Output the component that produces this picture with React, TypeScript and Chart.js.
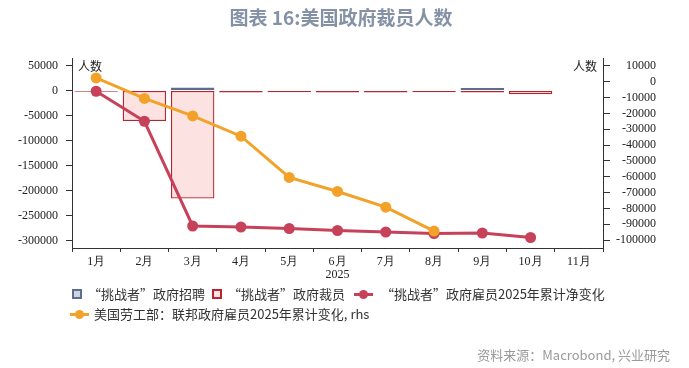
import React, { useEffect, useRef } from "react";
import { Chart, registerables } from "chart.js";

Chart.register(...registerables);

// ---- data ----
const months = ["1月", "2月", "3月", "4月", "5月", "6月", "7月", "8月", "9月", "10月", "11月"];
const yearLabel = "2025";
const hiring = [null, 800, 6000, null, null, null, null, null, 5000, 1200, null];
const layoffs = [-2500, -61000, -216000, -4000, -3500, -4000, -4000, -3500, -4000, -7500, null];
const netChallenger = [-1500, -61500, -271000, -273000, -276000, -280000, -283000, -286000, -285000, -294000, null];
const blsFederal = [2400, -10500, -21600, -34400, -60400, -69300, -79200, -94300, null, null, null];
const leftTicks = [50000, 0, -50000, -100000, -150000, -200000, -250000, -300000];
const rightTicks = [10000, 0, -10000, -20000, -30000, -40000, -50000, -60000, -70000, -80000, -90000, -100000];
const unitLabel = "人数";

const seriesNames = [
  "“挑战者”政府招聘",
  "“挑战者”政府裁员",
  "“挑战者”政府雇员2025年累计净变化",
  "美国劳工部：联邦政府雇员2025年累计变化, rhs",
];

const C_HIRE_BORDER = "#5d6d8c";
const C_HIRE_FILL = "#cdd4e1";
const C_LAY_BORDER = "#b8242f";
const C_LAY_FILL = "rgba(252, 214, 214, 0.7)";
const C_NET = "#c8415a";
const C_BLS = "#f2a229";

const tickFont = { family: "Liberation Serif", size: 12 };

const unitPlugin = {
  id: "unitPlugin",
  afterDraw(chart: any) {
    const { ctx, chartArea } = chart;
    ctx.save();
    ctx.font = "12px 'Noto Sans CJK SC', sans-serif";
    ctx.fillStyle = "#222";
    ctx.textBaseline = "middle";
    ctx.textAlign = "left";
    ctx.fillText(unitLabel, chartArea.left + 6, chartArea.top + 8);
    ctx.textAlign = "right";
    ctx.fillText(unitLabel, chartArea.right - 6, chartArea.top + 8);
    ctx.restore();
  },
};

const legendText: React.CSSProperties = {
  position: "absolute",
  fontFamily: "'Noto Sans CJK SC', sans-serif",
  fontSize: 13,
  lineHeight: "16px",
  color: "#333",
  whiteSpace: "nowrap",
};

function BoxIcon({ left, top, border, fill }: { left: number; top: number; border: string; fill: string }) {
  return (
    <div
      style={{
        position: "absolute",
        left,
        top,
        width: 6,
        height: 6,
        border: `2px solid ${border}`,
        background: fill,
      }}
    />
  );
}

function LineIcon({ left, top, color }: { left: number; top: number; color: string }) {
  return (
    <div style={{ position: "absolute", left, top, width: 19, height: 9 }}>
      <div style={{ position: "absolute", left: 0, top: 3, width: 19, height: 3, background: color }} />
      <div
        style={{
          position: "absolute",
          left: 5,
          top: 0,
          width: 9,
          height: 9,
          borderRadius: "50%",
          background: color,
        }}
      />
    </div>
  );
}

export default function App() {
  const ref = useRef<HTMLCanvasElement>(null);

  useEffect(() => {
    if (!ref.current) return;
    const chart = new Chart(ref.current, {
      type: "bar",
      data: {
        labels: months,
        datasets: [
          {
            type: "bar",
            label: seriesNames[0],
            data: hiring,
            yAxisID: "y",
            backgroundColor: C_HIRE_FILL,
            borderColor: C_HIRE_BORDER,
            borderWidth: 1.5,
            borderSkipped: false,
            grouped: false,
            barPercentage: 0.9,
            categoryPercentage: 1,
            order: 3,
          } as any,
          {
            type: "bar",
            label: seriesNames[1],
            data: layoffs,
            yAxisID: "y",
            backgroundColor: C_LAY_FILL,
            borderColor: C_LAY_BORDER,
            borderWidth: 1.3,
            borderSkipped: false,
            grouped: false,
            barPercentage: 0.9,
            categoryPercentage: 1,
            order: 2,
          } as any,
          {
            type: "line",
            label: seriesNames[2],
            data: netChallenger,
            yAxisID: "y",
            borderColor: C_NET,
            backgroundColor: C_NET,
            borderWidth: 3,
            pointRadius: 5.5,
            pointBorderWidth: 0,
            pointBackgroundColor: C_NET,
            tension: 0,
            order: 1,
          } as any,
          {
            type: "line",
            label: seriesNames[3],
            data: blsFederal,
            yAxisID: "y1",
            borderColor: C_BLS,
            backgroundColor: C_BLS,
            borderWidth: 3,
            pointRadius: 5.5,
            pointBorderWidth: 0,
            pointBackgroundColor: C_BLS,
            tension: 0,
            order: 0,
          } as any,
        ],
      },
      options: {
        animation: false,
        responsive: false,
        maintainAspectRatio: false,
        layout: { padding: { left: 0, right: 33, top: 58, bottom: 80 } },
        plugins: {
          legend: { display: false },
          tooltip: { enabled: false },
          title: { display: false },
        },
        scales: {
          x: {
            offset: true,
            grid: { display: true, drawOnChartArea: false, tickLength: 4, color: "#333", offset: true },
            border: { display: true, color: "#333", width: 1 },
            ticks: { font: tickFont, color: "#222", padding: 3, maxRotation: 0, autoSkip: false },
            title: {
              display: true,
              text: yearLabel,
              font: tickFont,
              color: "#222",
              padding: { top: 0, bottom: 6 },
            },
            afterFit: (s: any) => {
              s.height = 40;
            },
          } as any,
          y: {
            position: "left",
            min: -315000,
            max: 65000,
            grid: { display: true, drawOnChartArea: false, tickLength: 6, color: "#333" },
            border: { display: true, color: "#333", width: 1 },
            ticks: { font: tickFont, color: "#222", padding: 8, autoSkip: false, callback: (v: any) => String(v) },
            afterBuildTicks: (s: any) => {
              s.ticks = leftTicks.map((v) => ({ value: v }));
            },
            afterFit: (s: any) => {
              s.width = 72;
            },
          } as any,
          y1: {
            position: "right",
            min: -105000,
            max: 15000,
            grid: { display: true, drawOnChartArea: false, tickLength: 7, color: "#333" },
            border: { display: true, color: "#333", width: 1 },
            ticks: {
              font: tickFont,
              color: "#222",
              padding: 6,
              autoSkip: false,
              crossAlign: "far",
              callback: (v: any) => String(v),
            },
            afterBuildTicks: (s: any) => {
              s.ticks = rightTicks.map((v) => ({ value: v }));
            },
            afterFit: (s: any) => {
              s.width = 53;
            },
          } as any,
        },
      },
      plugins: [unitPlugin],
    });
    return () => chart.destroy();
  }, []);

  return (
    <div
      style={{
        position: "fixed",
        left: 0,
        top: 0,
        width: 689,
        height: 368,
        background: "#fff",
        overflow: "hidden",
      }}
    >
      <canvas
        ref={ref}
        width={689}
        height={368}
        style={{ position: "absolute", left: 0, top: 0, width: 689, height: 368 }}
      />
      <div
        style={{
          position: "absolute",
          left: 0,
          top: 6,
          width: 682,
          textAlign: "center",
          fontFamily: "'Noto Sans CJK SC', sans-serif",
          fontWeight: 700,
          fontSize: 19,
          lineHeight: "22px",
          color: "#8592a6",
        }}
      >
        图表 16:美国政府裁员人数
      </div>

      <BoxIcon left={72} top={289} border={C_HIRE_BORDER} fill={C_HIRE_FILL} />
      <div style={{ ...legendText, left: 88, top: 286 }}>{seriesNames[0]}</div>
      <BoxIcon left={212} top={289} border={C_LAY_BORDER} fill="#fde3e3" />
      <div style={{ ...legendText, left: 228, top: 286 }}>{seriesNames[1]}</div>
      <LineIcon left={354} top={289.5} color={C_NET} />
      <div style={{ ...legendText, left: 381, top: 286 }}>{seriesNames[2]}</div>
      <LineIcon left={70} top={309.5} color={C_BLS} />
      <div style={{ ...legendText, left: 94, top: 306 }}>{seriesNames[3]}</div>

      <div
        style={{
          position: "absolute",
          right: 19,
          top: 346,
          fontFamily: "'Noto Sans CJK SC', sans-serif",
          fontSize: 13,
          lineHeight: "18px",
          color: "#9a9a9a",
          whiteSpace: "nowrap",
        }}
      >
        资料来源：Macrobond, 兴业研究
      </div>
    </div>
  );
}
